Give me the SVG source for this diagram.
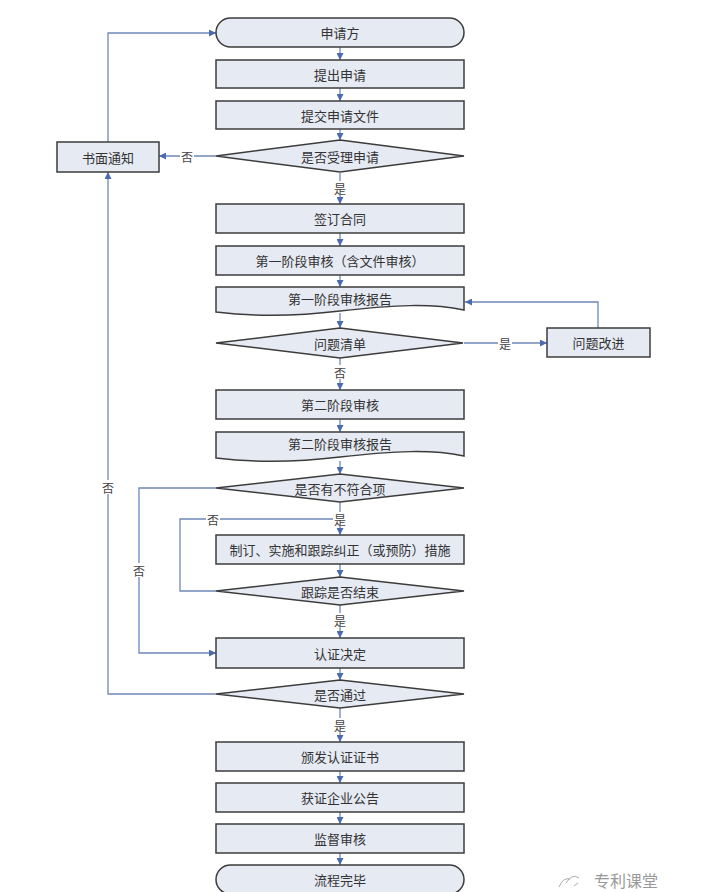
<svg xmlns="http://www.w3.org/2000/svg" width="708" height="892" viewBox="0 0 708 892">
<style>
.box{fill:#E6EAF3;stroke:#3c3c3c;stroke-width:1.5}
.t{font-family:"Noto Sans CJK SC","Noto Sans",sans-serif;font-size:13px;fill:#333;text-anchor:middle;dominant-baseline:central}
.lbl{font-family:"Noto Sans CJK SC","Noto Sans",sans-serif;font-size:12px;fill:#444;text-anchor:middle;dominant-baseline:central}
.c{fill:none;stroke:#6F88B8;stroke-width:1.3}
.bg{fill:#fff}
</style>
<defs>
<marker id="ah" viewBox="0 0 10 10" refX="10" refY="5" markerWidth="7" markerHeight="7" markerUnits="userSpaceOnUse" orient="auto">
<path d="M0,0 L10,5 L0,10 Z" fill="#4A6BB0"/>
</marker>
</defs>
<rect width="708" height="892" fill="#fff"/>

<g id="connectors">
<path class="c" marker-end="url(#ah)" d="M340,47 V60"/>
<path class="c" marker-end="url(#ah)" d="M340,88 V101"/>
<path class="c" marker-end="url(#ah)" d="M340,129 V140"/>
<path class="c" marker-end="url(#ah)" d="M340,173 V204"/>
<path class="c" marker-end="url(#ah)" d="M340,233 V246"/>
<path class="c" marker-end="url(#ah)" d="M340,275 V287"/>
<path class="c" marker-end="url(#ah)" d="M340,313 V328"/>
<path class="c" marker-end="url(#ah)" d="M340,358 V390"/>
<path class="c" marker-end="url(#ah)" d="M340,419 V432"/>
<path class="c" marker-end="url(#ah)" d="M340,461 V474"/>
<path class="c" marker-end="url(#ah)" d="M340,502 V535"/>
<path class="c" marker-end="url(#ah)" d="M340,564 V577"/>
<path class="c" marker-end="url(#ah)" d="M340,605 V638"/>
<path class="c" marker-end="url(#ah)" d="M340,668 V680"/>
<path class="c" marker-end="url(#ah)" d="M340,708 V742"/>
<path class="c" marker-end="url(#ah)" d="M340,771 V783"/>
<path class="c" marker-end="url(#ah)" d="M340,812 V824"/>
<path class="c" marker-end="url(#ah)" d="M340,853 V865"/>
<path class="c" marker-end="url(#ah)" d="M216,156 H159"/>
<path class="c" marker-end="url(#ah)" d="M108,142 V33 H216"/>
<path class="c" marker-end="url(#ah)" d="M216,694 H108 V172"/>
<path class="c" marker-end="url(#ah)" d="M216,488 H139 V653 H216"/>
<path class="c" d="M216,591 H180 V519 H340"/>
<path class="c" marker-end="url(#ah)" d="M464,343 H547"/>
<path class="c" marker-end="url(#ah)" d="M598,328 V302 H465"/>
<rect class="bg" x="180" y="149" width="14" height="14"/>
<text class="lbl" x="187" y="156">否</text>
<rect class="bg" x="333" y="181" width="14" height="14"/>
<text class="lbl" x="340" y="188">是</text>
<rect class="bg" x="498" y="336" width="14" height="14"/>
<text class="lbl" x="505" y="343">是</text>
<rect class="bg" x="333" y="365" width="14" height="14"/>
<text class="lbl" x="340" y="372">否</text>
<rect class="bg" x="101" y="480" width="14" height="14"/>
<text class="lbl" x="108" y="487">否</text>
<rect class="bg" x="206" y="512" width="14" height="14"/>
<text class="lbl" x="213" y="519">否</text>
<rect class="bg" x="333" y="512" width="14" height="14"/>
<text class="lbl" x="340" y="519">是</text>
<rect class="bg" x="132" y="563" width="14" height="14"/>
<text class="lbl" x="139" y="570">否</text>
<rect class="bg" x="333" y="613" width="14" height="14"/>
<text class="lbl" x="340" y="620">是</text>
<rect class="bg" x="333" y="718" width="14" height="14"/>
<text class="lbl" x="340" y="725">是</text>
</g>

<g id="n-applicant"><rect class="box" x="216" y="18" width="248" height="29" rx="14.5"/><text class="t" x="340" y="32.5">申请方</text></g>
<g id="n-submit"><rect class="box" x="216" y="60" width="248" height="28"/><text class="t" x="340" y="74">提出申请</text></g>
<g id="n-docs"><rect class="box" x="216" y="101" width="248" height="28"/><text class="t" x="340" y="115">提交申请文件</text></g>
<g id="n-accept"><polygon class="box" points="340,140 464,156 340,172 216,156"/><text class="t" x="340" y="156">是否受理申请</text></g>
<g id="n-notice"><rect class="box" x="57" y="142" width="102" height="30"/><text class="t" x="108" y="157">书面通知</text></g>
<g id="n-contract"><rect class="box" x="216" y="204" width="248" height="29"/><text class="t" x="340" y="218.5">签订合同</text></g>
<g id="n-stage1"><rect class="box" x="216" y="246" width="248" height="29"/><text class="t" x="340" y="260.5">第一阶段审核（含文件审核）</text></g>
<g id="n-report1"><path class="box" d="M216,287 H464 V310 C430,303 395,305 340,311 C290,317 250,316 216,312 Z"/><text class="t" x="340" y="298">第一阶段审核报告</text></g>
<g id="n-issues"><polygon class="box" points="340,328 463,343 340,358 216,343"/><text class="t" x="340" y="343">问题清单</text></g>
<g id="n-improve"><rect class="box" x="547" y="328" width="103" height="29"/><text class="t" x="598.5" y="342.5">问题改进</text></g>
<g id="n-stage2"><rect class="box" x="216" y="390" width="248" height="29"/><text class="t" x="340" y="404.5">第二阶段审核</text></g>
<g id="n-report2"><path class="box" d="M216,432 H464 V456 C430,449 395,451 340,457 C290,463 250,462 216,458 Z"/><text class="t" x="340" y="443.5">第二阶段审核报告</text></g>
<g id="n-nonconf"><polygon class="box" points="340,474 464,488 340,502 216,488"/><text class="t" x="340" y="488">是否有不符合项</text></g>
<g id="n-corrective"><rect class="box" x="216" y="535" width="248" height="29"/><text class="t" x="340" y="549.5">制订、实施和跟踪纠正（或预防）措施</text></g>
<g id="n-trackend"><polygon class="box" points="340,577 464,591 340,605 216,591"/><text class="t" x="340" y="591">跟踪是否结束</text></g>
<g id="n-decision"><rect class="box" x="216" y="638" width="248" height="30"/><text class="t" x="340" y="653">认证决定</text></g>
<g id="n-pass"><polygon class="box" points="340,680 464,694 340,708 216,694"/><text class="t" x="340" y="694">是否通过</text></g>
<g id="n-cert"><rect class="box" x="216" y="742" width="248" height="29"/><text class="t" x="340" y="756.5">颁发认证证书</text></g>
<g id="n-announce"><rect class="box" x="216" y="783" width="248" height="29"/><text class="t" x="340" y="797.5">获证企业公告</text></g>
<g id="n-supervise"><rect class="box" x="216" y="824" width="248" height="29"/><text class="t" x="340" y="838.5">监督审核</text></g>
<g id="n-end"><rect class="box" x="216" y="865" width="248" height="29" rx="14.5"/><text class="t" x="340" y="879.5">流程完毕</text></g>

<g id="watermark">
<path d="M559,887 Q563,877 570,879 M566,883 Q572,873 579,878 M574,886 L578,883" fill="none" stroke="#aaa" stroke-width="1"/>
<text x="594" y="887" font-family="Noto Sans CJK SC,sans-serif" font-size="16" fill="#999">专利课堂</text>
</g>
</svg>
